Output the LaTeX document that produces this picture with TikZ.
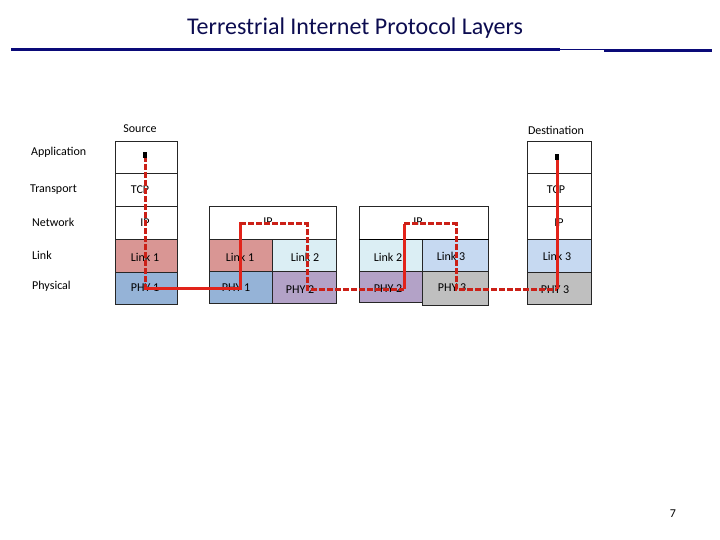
\documentclass[tikz,border=0pt]{standalone}
\usepackage{fontspec}
\setmainfont{Carlito}
\definecolor{navy}{HTML}{0C0C50}
\definecolor{rule}{HTML}{0A0A78}
\definecolor{linkA}{HTML}{D99694}
\definecolor{phyA}{HTML}{95B3D7}
\definecolor{linkB}{HTML}{DBEEF4}
\definecolor{phyB}{HTML}{B3A2C7}
\definecolor{linkC}{HTML}{C6D9F1}
\definecolor{phyC}{HTML}{BFBFBF}
\definecolor{pathred}{HTML}{E2231A}
\begin{document}
\begin{tikzpicture}[x=1pt,y=-1pt,
  cell/.style={draw=black!85,line width=0.7pt,anchor=north west,inner sep=0pt},
  lab/.style={anchor=west,inner sep=0pt,font=\fontsize{12}{14}\selectfont},
  txt/.style={inner sep=0pt,font=\fontsize{12}{14}\selectfont},
  solidpath/.style={draw=pathred,line width=3pt},
  dashpath/.style={draw=pathred!90!black,line width=3pt,dash pattern=on 6pt off 2pt}]
\useasboundingbox (0,0) rectangle (720,540);
% title
\node[font=\fontsize{24}{28}\selectfont,text=navy] (title) at (355,28) {Terrestrial Internet Protocol Layers};
\draw[rule,line width=3pt] (11,49.5) -- (560,49.5);
\draw[rule,line width=1pt] (560,50) -- (604,50);
\draw[rule,line width=3pt] (604,50.5) -- (712,50.5);
% layer labels
\node[lab] (lApp) at (31,152) {Application};
\node[lab] (lTr) at (30,190) {Transport};
\node[lab] (lNet) at (32,222) {Network};
\node[lab] (lLink) at (32,255) {Link};
\node[lab] (lPhy) at (32,286) {Physical};
\node[txt] (src) at (140,129) {Source};
\node[txt] (dst) at (556,130) {Destination};
% source stack
\node[cell,minimum width=62pt,minimum height=32pt] (sA) at (115,141) {};
\node[cell,minimum width=62pt,minimum height=33pt] (sT) at (115,173) {};
\node[cell,minimum width=62pt,minimum height=33pt] (sN) at (115,206) {};
\node[cell,fill=linkA,minimum width=62pt,minimum height=33pt] (sL) at (115,239) {};
\node[cell,fill=phyA,minimum width=62pt,minimum height=32pt] (sP) at (115,272) {};
\node[txt] at (140,190) {TCP};
\node[txt] at (145,223) {IP};
\node[txt] at (145,257) {Link 1};
\node[txt] at (145,288) {PHY 1};
% router 1
\node[cell,minimum width=127pt,minimum height=33pt] (r1N) at (209,206) {};
\node[cell,fill=linkA,minimum width=63pt,minimum height=32pt] (r1La) at (209,239) {};
\node[cell,fill=linkB,minimum width=64pt,minimum height=32pt] (r1Lb) at (272,239) {};
\node[cell,fill=phyA,minimum width=63pt,minimum height=32pt] (r1Pa) at (209,271) {};
\node[cell,fill=phyB,minimum width=64pt,minimum height=32pt] (r1Pb) at (272,271) {};
\node[txt] at (268,222) {IP};
\node[txt] at (240,257) {Link 1};
\node[txt] at (305,257) {Link 2};
\node[txt] at (236,288) {PHY 1};
\node[txt] at (300,290) {PHY 2};
% router 2
\node[cell,minimum width=129pt,minimum height=33pt] (r2N) at (359,206) {};
\node[cell,fill=linkB,minimum width=63pt,minimum height=32pt] (r2La) at (359,239) {};
\node[cell,fill=linkC,minimum width=66pt,minimum height=32pt] (r2Lb) at (422,239) {};
\node[cell,fill=phyB,minimum width=63pt,minimum height=31pt] (r2Pa) at (359,271) {};
\node[cell,fill=phyC,minimum width=66pt,minimum height=34pt] (r2Pb) at (422,271) {};
\draw[black,line width=1.4pt] (r2N.south west) -- (r2N.south east);
\node[txt] at (418,222) {IP};
\node[txt] at (388,257) {Link 2};
\node[txt] at (451,256) {Link 3};
\node[txt] at (388,289) {PHY 2};
\node[txt] at (452,288) {PHY 3};
% destination stack
\node[cell,minimum width=64pt,minimum height=32pt] (dA) at (527,141) {};
\node[cell,minimum width=64pt,minimum height=33pt] (dT) at (527,173) {};
\node[cell,minimum width=64pt,minimum height=33pt] (dN) at (527,206) {};
\node[cell,fill=linkC,minimum width=64pt,minimum height=33pt] (dL) at (527,239) {};
\node[cell,fill=phyC,minimum width=64pt,minimum height=32pt] (dP) at (527,272) {};
\node[txt] at (556,190) {TCP};
\node[txt] at (559,223) {IP};
\node[txt] at (557,256) {Link 3};
\node[txt] at (555,290) {PHY 3};
% path corners
\coordinate (p0) at (145,156);
\coordinate (p1) at (145,288);
\coordinate (p2) at (240,288);
\coordinate (p3) at (240,224);
\coordinate (p4) at (307,224);
\coordinate (p5) at (307,289);
\coordinate (p6) at (404,289);
\coordinate (p7) at (404,224);
\coordinate (p8) at (456,224);
\coordinate (p9) at (456,289);
\coordinate (p10) at (557,289);
\coordinate (p11) at (557,158);
\draw[dashpath] (p0) -- (p1);
\draw[solidpath,line cap=rect] (p1) -- (p2) -- (p3);
\draw[dashpath] (p3) -- (p4) -- (p5) -- (p6);
\draw[solidpath] (p6) -- (p7);
\draw[dashpath] (p7) -- (p8) -- (p9) -- (p10);
\draw[solidpath] (p10) -- (p11);
\fill[black] (143,152) rectangle (147,158);
\fill[black] (555,154) rectangle (559,160);
% page number
\node[txt] (pg) at (673,514) {7};
\end{tikzpicture}
\end{document}
